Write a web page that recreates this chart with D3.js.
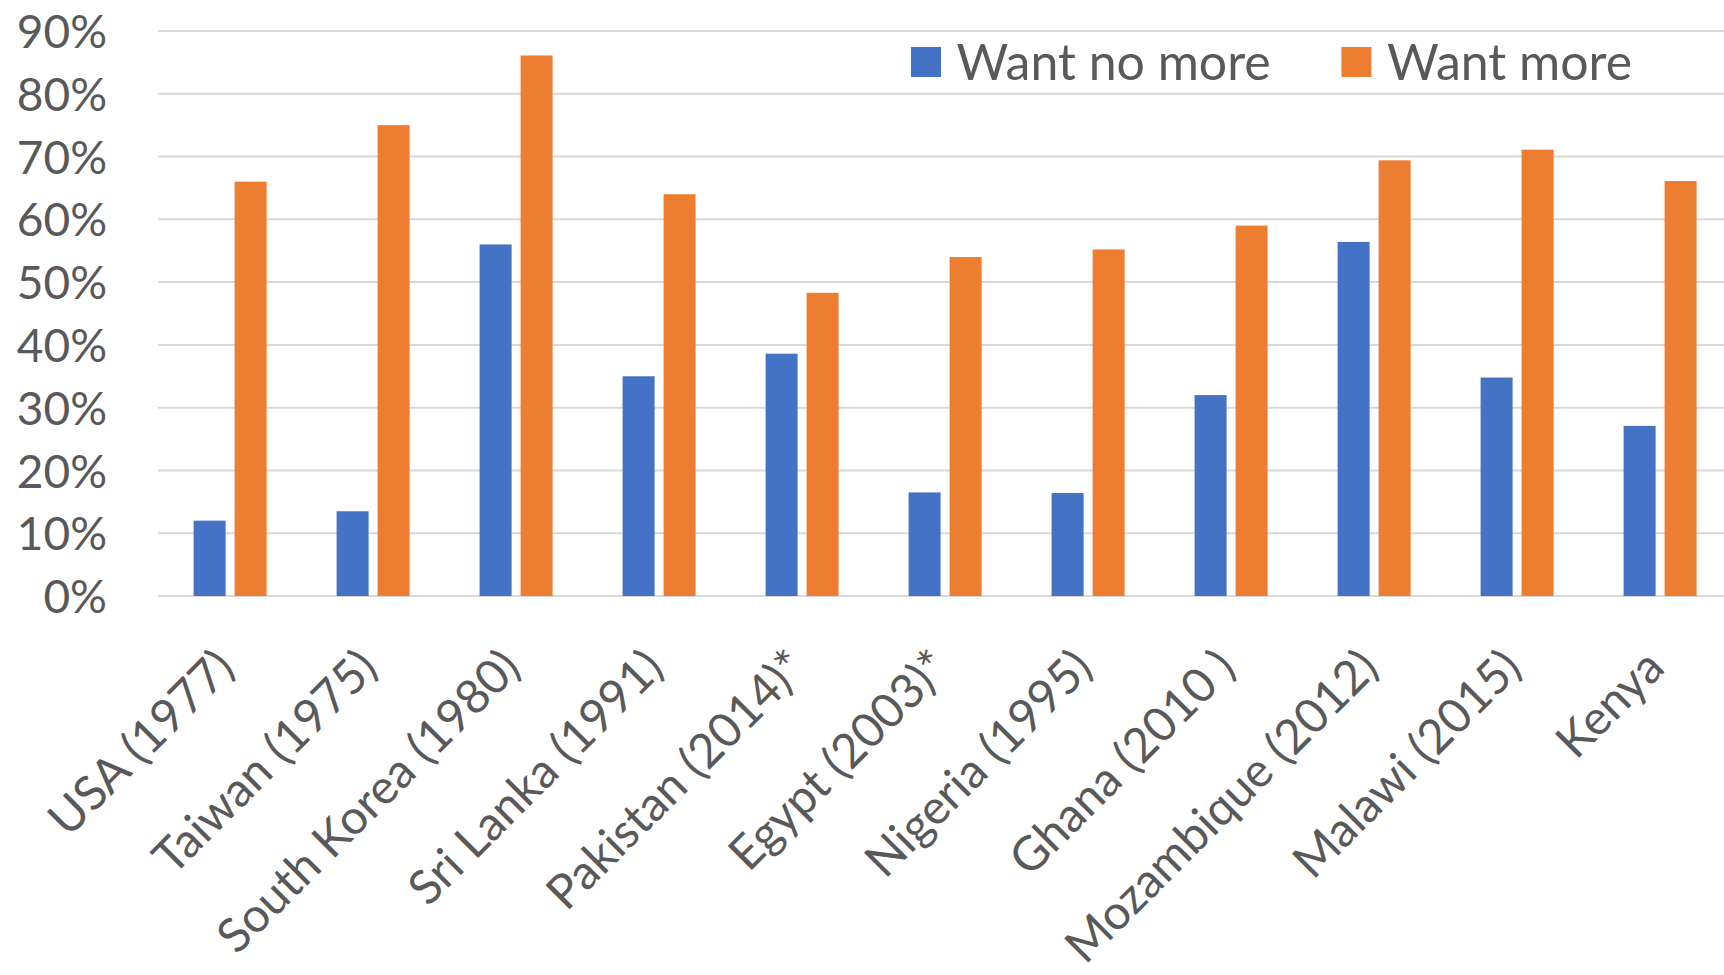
<!DOCTYPE html>
<html>
<head>
<meta charset="utf-8">
<script src="https://cdn.jsdelivr.net/npm/d3@7"></script>
<style>
  html, body { margin: 0; padding: 0; background: #ffffff; }
  svg { display: block; }
  text { font-family: Lato, "Open Sans", sans-serif; fill: #595959; }
</style>
</head>
<body>
<svg id="chart" width="1724" height="975"></svg>
<script>
const categories = ["USA (1977)", "Taiwan (1975)", "South Korea (1980)", "Sri Lanka (1991)",
  "Pakistan (2014)*", "Egypt (2003)*", "Nigeria (1995)", "Ghana (2010 )",
  "Mozambique (2012)", "Malawi (2015)", "Kenya"];
const seriesNames = ["Want no more", "Want more"];
const wantNoMore = [0.120, 0.135, 0.560, 0.350, 0.386, 0.165, 0.164, 0.320, 0.564, 0.348, 0.271];
const wantMore   = [0.660, 0.750, 0.861, 0.640, 0.483, 0.540, 0.552, 0.590, 0.694, 0.711, 0.661];
const yTicks = [0, 0.1, 0.2, 0.3, 0.4, 0.5, 0.6, 0.7, 0.8, 0.9];
const colors = ["#4472C4", "#ED7D31"];

const svg = d3.select("#chart");
const W = 1724, H = 975;

const x0 = d3.scaleBand().domain(categories).range([158.3, 1731.3]).paddingInner(0).paddingOuter(0);
const x1 = d3.scaleBand().domain(seriesNames).range([35.3, 108.3]).paddingInner(0.2195).paddingOuter(0);
const y = d3.scaleLinear().domain([0, 0.9]).range([596, 31]);

// gridlines
svg.append("g").selectAll("line").data(yTicks).join("line")
  .attr("x1", 158).attr("x2", W)
  .attr("y1", d => y(d)).attr("y2", d => y(d))
  .attr("stroke", "#d9d9d9").attr("stroke-width", 2);

// y axis labels
const yAxis = d3.axisLeft(y).tickValues(yTicks).tickFormat(d3.format(".0%")).tickSize(0).tickPadding(0);
const yg = svg.append("g").attr("transform", "translate(107,0)").call(yAxis);
yg.select(".domain").remove();
yg.selectAll("text").attr("font-size", 46).attr("fill", "#595959")
  .style("font-family", "Lato, 'Open Sans', sans-serif").attr("dy", "0.36em");

// bars
const data = categories.map((c, i) => ({ cat: c, vals: [wantNoMore[i], wantMore[i]] }));
const groups = svg.append("g").selectAll("g").data(data).join("g")
  .attr("transform", d => `translate(${x0(d.cat)},0)`);
groups.selectAll("rect").data(d => d.vals.map((v, j) => ({ key: seriesNames[j], v, j })))
  .join("rect")
  .attr("x", d => x1(d.key))
  .attr("width", x1.bandwidth())
  .attr("y", d => y(d.v))
  .attr("height", d => y(0) - y(d.v))
  .attr("fill", d => colors[d.j]);

// x axis labels (rotated)
const xAxis = d3.axisBottom(x0).tickSize(0).tickPadding(0);
const xg = svg.append("g").attr("transform", `translate(0,${y(0)})`).call(xAxis);
xg.select(".domain").remove();
xg.selectAll("text")
  .attr("font-size", 47.5).attr("fill", "#595959")
  .style("font-family", "Lato, 'Open Sans', sans-serif")
  .attr("text-anchor", "end")
  .attr("y", 0).attr("dy", 0)
  .attr("transform", "translate(7,74) rotate(-45)");

// legend
const legend = svg.append("g");
const legX = [911, 1341.4];
seriesNames.forEach((s, i) => {
  legend.append("rect").attr("x", legX[i]).attr("y", 47).attr("width", 30).attr("height", 30)
    .attr("fill", colors[i]);
  legend.append("text").attr("x", legX[i] + 45.6).attr("y", 62).attr("dy", "0.36em")
    .attr("font-size", 50).text(s);
});
</script>
</body>
</html>
